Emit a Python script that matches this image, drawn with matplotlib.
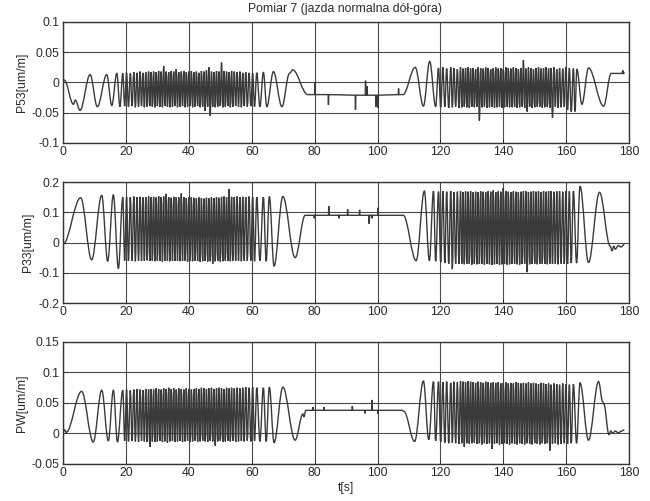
import numpy as np
import matplotlib
matplotlib.use("Agg")
import matplotlib.pyplot as plt
from matplotlib.path import Path
from matplotlib.patches import PathPatch

plt.rcParams['font.family'] = ['Liberation Sans', 'DejaVu Sans']

# ---------------- data (extrema) ----------------
title = "Pomiar 7 (jazda normalna dół-góra)"
x_label = "t[s]"
y_labels = ["P53[um/m]", "P33[um/m]", "PW[um/m]"]
x_ticks = [0, 20, 40, 60, 80, 100, 120, 140, 160, 180]
y_ticks_p53 = [-0.1, -0.05, 0, 0.05, 0.1]
y_ticks_p33 = [-0.2, -0.1, 0, 0.1, 0.2]
y_ticks_pw = [-0.05, 0, 0.05, 0.1, 0.15]

# shared timing of the fast oscillations (s)
dense1_peak_t = [19.0, 20.2, 21.4, 22.5, 23.5, 24.5, 25.4, 26.3, 27.2, 28.0,
                 28.8, 29.6, 30.4, 31.2, 32.0, 32.8, 33.6, 34.4, 35.2, 36.0,
                 36.8, 37.6, 38.4, 39.2, 40.0, 40.8, 41.6, 42.4, 43.2, 44.0,
                 44.8, 45.6, 46.4, 47.2, 48.0, 48.8, 49.6, 50.4, 51.2, 52.0,
                 52.8, 53.6, 54.45, 55.35, 56.25, 57.15, 58.1, 59.15, 60.3]
dense1_trough_t = [19.6, 20.8, 21.95, 23.0, 24.0, 24.95, 25.85, 26.75, 27.6, 28.4,
                   29.2, 30.0, 30.8, 31.6, 32.4, 33.2, 34.0, 34.8, 35.6, 36.4,
                   37.2, 38.0, 38.8, 39.6, 40.4, 41.2, 42.0, 42.8, 43.6, 44.4,
                   45.2, 46.0, 46.8, 47.6, 48.4, 49.2, 50.0, 50.8, 51.6, 52.4,
                   53.2, 54.0, 54.9, 55.8, 56.7, 57.6, 58.6, 59.7, 60.9]
dense2_trough_t = [118.5, 120.1, 121.4, 122.65, 123.8, 124.85, 125.9, 126.8, 127.6, 128.4,
                   129.2, 130.0, 130.8, 131.6, 132.4, 133.2, 134.0, 134.8, 135.6, 136.4,
                   137.2, 138.0, 138.8, 139.6, 140.4, 141.2, 142.0, 142.8, 143.6, 144.4,
                   145.2, 146.0, 146.8, 147.6, 148.4, 149.2, 150.0, 150.8, 151.6, 152.4,
                   153.2, 154.0, 154.8, 155.65, 156.55, 157.45, 158.4, 159.4, 160.45, 161.6]
dense2_peak_t = [119.4, 120.8, 122.0, 123.3, 124.3, 125.4, 126.4, 127.2, 128.0, 128.8,
                 129.6, 130.4, 131.2, 132.0, 132.8, 133.6, 134.4, 135.2, 136.0, 136.8,
                 137.6, 138.4, 139.2, 140.0, 140.8, 141.6, 142.4, 143.2, 144.0, 144.8,
                 145.6, 146.4, 147.2, 148.0, 148.8, 149.6, 150.4, 151.2, 152.0, 152.8,
                 153.6, 154.4, 155.2, 156.1, 157.0, 157.9, 158.9, 159.9, 161.0, 162.3]

# ---- P53 ----
p53_start_t = [0.0, 0.4, 3.3, 3.9, 5.4, 8.6, 10.9, 13.9, 15.5, 17.1, 18.1]
p53_start_v = [0.002, 0.004, -0.036, -0.029, -0.046, 0.013, -0.040, 0.013, -0.038, 0.015, -0.040]
p53_d1_peaks = [0.015, 0.016, 0.015, 0.017, 0.016, 0.018, 0.016, 0.017, 0.018, 0.017,
                0.018, 0.017, 0.019, 0.018, 0.027, 0.018, 0.017, 0.019, 0.018, 0.022,
                0.017, 0.018, 0.019, 0.017, 0.018, 0.019, 0.017, 0.018, 0.016, 0.019,
                0.018, 0.020, 0.025, 0.018, 0.017, 0.019, 0.018, 0.033, 0.019, 0.018,
                0.017, 0.019, 0.018, 0.017, 0.018, 0.016, 0.017, 0.016, 0.015]
p53_d1_troughs = [-0.039, -0.040, -0.039, -0.041, -0.040, -0.039, -0.041, -0.040, -0.039, -0.040,
                  -0.041, -0.039, -0.040, -0.041, -0.039, -0.040, -0.041, -0.040, -0.039, -0.041,
                  -0.040, -0.039, -0.041, -0.040, -0.039, -0.041, -0.040, -0.039, -0.041, -0.040,
                  -0.047, -0.040, -0.055, -0.040, -0.041, -0.040, -0.039, -0.041, -0.040, -0.039,
                  -0.041, -0.040, -0.039, -0.040, -0.041, -0.039, -0.040, -0.039, -0.040]
p53_mid_t = [61.6, 62.6, 63.7, 64.8, 66.9, 69.6, 72.0, 72.4, 73.0, 77.8,
             80.0, 80.1, 80.2, 84.3, 84.4, 84.5, 92.9, 93.0, 93.1, 96.1, 96.2, 96.3,
             96.6, 96.7, 96.8, 99.4, 99.5, 99.6, 100.1, 100.2, 100.3, 106.6, 106.7, 106.8,
             108.1, 112.0, 114.6, 116.6]
p53_mid_v = [0.016, -0.040, 0.017, -0.040, 0.018, -0.040, 0.015, 0.017, 0.021, -0.020,
             -0.020, 0.000, -0.020, -0.020, -0.037, -0.020, -0.021, -0.045, -0.021, -0.021, 0.003, -0.021,
             -0.021, -0.006, -0.021, -0.021, -0.040, -0.021, -0.021, -0.042, -0.021, -0.020, -0.010, -0.020,
             -0.020, 0.025, -0.039, 0.035]
p53_d2_troughs = [-0.040, -0.041, -0.040, -0.042, -0.041, -0.040, -0.042, -0.041, -0.040, -0.041,
                  -0.042, -0.040, -0.041, -0.040, -0.063, -0.041, -0.040, -0.042, -0.041, -0.040,
                  -0.042, -0.041, -0.040, -0.042, -0.041, -0.040, -0.041, -0.041, -0.040, -0.042,
                  -0.041, -0.040, -0.042, -0.048, -0.040, -0.042, -0.041, -0.040, -0.040, -0.042,
                  -0.041, -0.040, -0.042, -0.058, -0.040, -0.042, -0.041, -0.040, -0.045, -0.048]
p53_d2_peaks = [0.024, 0.025, 0.023, 0.025, 0.024, 0.022, 0.025, 0.023, 0.024, 0.025,
                0.023, 0.024, 0.022, 0.025, 0.024, 0.023, 0.025, 0.024, 0.022, 0.024,
                0.025, 0.023, 0.024, 0.022, 0.025, 0.024, 0.023, 0.025, 0.024, 0.022,
                0.024, 0.037, 0.023, 0.025, 0.024, 0.022, 0.024, 0.025, 0.023, 0.024,
                0.025, 0.023, 0.024, 0.025, 0.022, 0.024, 0.023, 0.025, 0.024, 0.023]
p53_end_t = [162.8, 163.4, 165.0, 167.1, 171.9, 174.3, 177.8, 178.0, 178.2, 178.5]
p53_end_v = [-0.048, 0.022, -0.036, 0.024, -0.039, 0.015, 0.015, 0.020, 0.014, 0.017]

# ---- P33 ----
p33_start_t = [0.0, 5.6, 9.1, 12.3, 14.2, 16.0, 17.6]
p33_start_v = [-0.005, 0.148, -0.057, 0.156, -0.062, 0.158, -0.086]
p33_d1_peaks = [0.150, 0.151, 0.150, 0.152, 0.150, 0.151, 0.149, 0.150, 0.152, 0.150,
                0.151, 0.149, 0.153, 0.150, 0.152, 0.161, 0.150, 0.148, 0.151, 0.150,
                0.149, 0.162, 0.150, 0.147, 0.149, 0.150, 0.148, 0.146, 0.149, 0.147,
                0.145, 0.148, 0.146, 0.149, 0.147, 0.150, 0.148, 0.151, 0.152, 0.150,
                0.176, 0.151, 0.150, 0.152, 0.150, 0.151, 0.150, 0.152, 0.150]
p33_d1_troughs = [-0.060, -0.061, -0.060, -0.062, -0.060, -0.061, -0.060, -0.059, -0.061, -0.060,
                  -0.062, -0.060, -0.061, -0.063, -0.060, -0.061, -0.062, -0.060, -0.061, -0.060,
                  -0.062, -0.061, -0.060, -0.063, -0.061, -0.062, -0.060, -0.061, -0.064, -0.062,
                  -0.061, -0.063, -0.062, -0.070, -0.062, -0.061, -0.063, -0.062, -0.060, -0.061,
                  -0.062, -0.060, -0.061, -0.060, -0.062, -0.060, -0.061, -0.060, -0.062]
p33_mid_t = [61.6, 62.6, 63.7, 64.6, 65.6, 67.1, 69.9, 73.8, 77.0,
             79.8, 79.9, 80.0, 84.4, 84.5, 84.6, 87.6, 87.7, 87.8, 90.4, 90.5, 90.6,
             94.2, 94.3, 94.4, 97.2, 97.35, 97.5, 98.2, 98.3, 98.4, 100.1, 100.2, 100.3,
             108.2, 112.3, 114.9, 116.5, 117.8]
p33_mid_v = [0.150, -0.060, 0.150, -0.062, 0.152, -0.078, 0.152, -0.050, 0.090,
             0.090, 0.080, 0.090, 0.090, 0.120, 0.090, 0.090, 0.080, 0.090, 0.090, 0.110, 0.090,
             0.090, 0.108, 0.090, 0.090, 0.062, 0.090, 0.090, 0.080, 0.090, 0.090, 0.115, 0.090,
             0.090, -0.060, 0.170, -0.060, 0.170]
p33_d2_troughs = [-0.062, -0.065, -0.068, -0.070, -0.088, -0.070, -0.071, -0.070, -0.072, -0.070,
                  -0.071, -0.073, -0.070, -0.072, -0.071, -0.070, -0.073, -0.071, -0.072, -0.074,
                  -0.072, -0.071, -0.073, -0.072, -0.071, -0.073, -0.072, -0.071, -0.070, -0.072,
                  -0.073, -0.071, -0.070, -0.098, -0.072, -0.071, -0.070, -0.072, -0.071, -0.070,
                  -0.071, -0.072, -0.070, -0.071, -0.070, -0.072, -0.070, -0.071, -0.070, -0.068]
p33_d2_peaks = [0.168, 0.170, 0.168, 0.170, 0.166, 0.168, 0.170, 0.167, 0.169, 0.168,
                0.170, 0.166, 0.168, 0.167, 0.169, 0.168, 0.166, 0.170, 0.168, 0.172,
                0.167, 0.169, 0.168, 0.180, 0.170, 0.168, 0.167, 0.169, 0.168, 0.166,
                0.168, 0.170, 0.169, 0.167, 0.168, 0.170, 0.168, 0.169, 0.167, 0.170,
                0.168, 0.169, 0.170, 0.168, 0.169, 0.170, 0.168, 0.170, 0.169, 0.170]
p33_end_t = [163.3, 164.4, 167.1, 170.6, 174.0, 174.6, 175.1, 175.6, 176.6, 177.4, 178.5]
p33_end_v = [-0.068, 0.186, -0.066, 0.166, -0.012, -0.028, -0.012, -0.022, -0.010, -0.015, -0.006]

# ---- PW ----
pw_start_t = [0.0, 0.5, 1.0, 5.9, 9.6, 12.3, 14.4, 16.0, 17.3]
pw_start_v = [0.002, 0.006, 0.002, 0.069, -0.014, 0.071, -0.012, 0.071, -0.014]
pw_d1_peaks = [0.071, 0.072, 0.071, 0.072, 0.073, 0.072, 0.071, 0.073, 0.072, 0.073,
               0.072, 0.074, 0.073, 0.072, 0.074, 0.073, 0.075, 0.073, 0.074, 0.072,
               0.074, 0.073, 0.072, 0.074, 0.073, 0.072, 0.073, 0.074, 0.073, 0.075,
               0.074, 0.073, 0.074, 0.075, 0.073, 0.074, 0.075, 0.074, 0.073, 0.075,
               0.074, 0.075, 0.074, 0.075, 0.074, 0.075, 0.076, 0.075, 0.076]
pw_d1_troughs = [-0.012, -0.013, -0.012, -0.013, -0.014, -0.012, -0.013, -0.014, -0.022, -0.013,
                 -0.014, -0.013, -0.012, -0.014, -0.013, -0.015, -0.013, -0.012, -0.014, -0.013,
                 -0.012, -0.014, -0.013, -0.012, -0.014, -0.013, -0.012, -0.014, -0.013, -0.012,
                 -0.013, -0.014, -0.012, -0.013, -0.020, -0.013, -0.012, -0.014, -0.013, -0.012,
                 -0.013, -0.012, -0.014, -0.013, -0.012, -0.013, -0.012, -0.013, -0.012]
pw_mid_t = [61.6, 62.6, 63.7, 64.6, 65.6, 67.1, 69.9, 73.8, 76.3, 76.6, 77.2,
            79.4, 79.5, 79.6, 82.9, 83.0, 83.1, 91.9, 92.0, 92.1, 95.9, 96.0, 96.1,
            98.2, 98.3, 98.4, 100.1, 100.2, 100.3, 107.8, 108.4,
            111.8, 114.6, 116.3, 117.8]
pw_mid_v = [0.075, -0.013, 0.075, -0.013, 0.076, -0.015, 0.076, -0.011, 0.032, 0.027, 0.038,
            0.038, 0.043, 0.038, 0.038, 0.043, 0.038, 0.038, 0.045, 0.038, 0.038, 0.033, 0.038,
            0.038, 0.055, 0.038, 0.038, 0.032, 0.038, 0.038, 0.036,
            -0.013, 0.086, -0.010, 0.085]
pw_d2_troughs = [-0.012, -0.014, -0.015, -0.016, -0.015, -0.016, -0.017, -0.016, -0.022, -0.016,
                 -0.017, -0.016, -0.015, -0.017, -0.016, -0.018, -0.016, -0.017, -0.016, -0.025,
                 -0.017, -0.016, -0.018, -0.017, -0.016, -0.017, -0.018, -0.016, -0.017, -0.018,
                 -0.016, -0.017, -0.018, -0.016, -0.017, -0.018, -0.016, -0.017, -0.018, -0.016,
                 -0.017, -0.016, -0.028, -0.017, -0.016, -0.018, -0.017, -0.016, -0.017, -0.016]
pw_d2_peaks = [0.085, 0.084, 0.085, 0.083, 0.085, 0.084, 0.086, 0.085, 0.084, 0.086,
               0.085, 0.084, 0.083, 0.085, 0.084, 0.083, 0.085, 0.084, 0.083, 0.084,
               0.083, 0.084, 0.082, 0.083, 0.084, 0.082, 0.083, 0.082, 0.084, 0.083,
               0.082, 0.083, 0.082, 0.084, 0.082, 0.083, 0.082, 0.081, 0.083, 0.082,
               0.081, 0.082, 0.080, 0.082, 0.081, 0.080, 0.082, 0.081, 0.080, 0.081]
pw_end_t = [163.3, 164.4, 167.1, 170.3, 171.6, 172.0, 173.6, 174.2, 174.8, 175.6, 176.6, 177.6, 178.5]
pw_end_v = [-0.016, 0.083, -0.011, 0.085, 0.052, 0.048, -0.002, 0.004, 0.000, 0.004, 0.001, 0.004, 0.006]


def assemble(start_t, start_v, d1p, d1t, mid_t, mid_v, d2t, d2p, end_t, end_v):
    t = np.concatenate([start_t, dense1_peak_t, dense1_trough_t, mid_t,
                        dense2_trough_t, dense2_peak_t, end_t])
    v = np.concatenate([start_v, d1p, d1t, mid_v, d2t, d2p, end_v])
    order = np.argsort(t, kind="stable")
    return t[order], v[order]


def smooth_path(t, v, k=0.36):
    verts = [(t[0], v[0])]
    codes = [Path.MOVETO]
    for i in range(1, len(t)):
        dt = t[i] - t[i - 1]
        verts += [(t[i - 1] + k * dt, v[i - 1]), (t[i] - k * dt, v[i]), (t[i], v[i])]
        codes += [Path.CURVE4] * 3
    return Path(verts, codes)


series = [
    assemble(p53_start_t, p53_start_v, p53_d1_peaks, p53_d1_troughs, p53_mid_t, p53_mid_v,
             p53_d2_troughs, p53_d2_peaks, p53_end_t, p53_end_v),
    assemble(p33_start_t, p33_start_v, p33_d1_peaks, p33_d1_troughs, p33_mid_t, p33_mid_v,
             p33_d2_troughs, p33_d2_peaks, p33_end_t, p33_end_v),
    assemble(pw_start_t, pw_start_v, pw_d1_peaks, pw_d1_troughs, pw_mid_t, pw_mid_v,
             pw_d2_troughs, pw_d2_peaks, pw_end_t, pw_end_v),
]
y_ticks_all = [y_ticks_p53, y_ticks_p33, y_ticks_pw]

fig = plt.figure(figsize=(6.5, 5.01), dpi=100)
fig.patch.set_facecolor("white")
rects = [[0.097, 0.7146, 0.8708, 0.2415],
         [0.097, 0.3952, 0.8708, 0.2415],
         [0.097, 0.0739, 0.8708, 0.2435]]
line_col = "#3a3a3a"
text_col = "#2a2a2a"
for i, (rect, (t, v), yt, yl) in enumerate(zip(rects, series, y_ticks_all, y_labels)):
    ax = fig.add_axes(rect)
    ax.add_patch(PathPatch(smooth_path(t, v), facecolor="none", edgecolor=line_col,
                           lw=1.0, zorder=3))
    ax.set_xlim(x_ticks[0], x_ticks[-1])
    ax.set_ylim(yt[0], yt[-1])
    ax.set_xticks(x_ticks)
    ax.set_yticks(yt)
    ax.set_xticklabels([f"{x:g}" for x in x_ticks])
    ax.set_yticklabels([f"{y:g}" for y in yt])
    ax.grid(True, color="#4a4a4a", lw=0.8, ls="-", zorder=1)
    ax.set_axisbelow(True)
    ax.tick_params(direction="in", length=3, width=0.6, labelsize=8.8,
                   colors=text_col, pad=2.5)
    for s in ax.spines.values():
        s.set_color("#333333")
        s.set_linewidth(1.0)
    ax.set_ylabel(yl, fontsize=8.8, color=text_col, labelpad=3)
    if i == 2:
        ax.set_xlabel(x_label, fontsize=8.8, color=text_col, labelpad=2)

fig.text(0.53, 0.983, title, ha="center", va="center", fontsize=8.8, color=text_col)
fig.savefig("out.png", dpi=100, facecolor="white")
